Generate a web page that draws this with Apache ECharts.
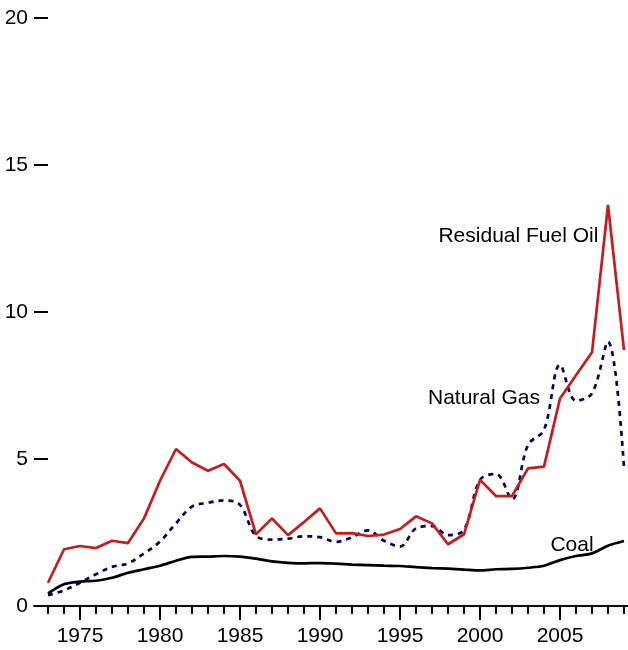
<!DOCTYPE html>
<html>
<head>
<meta charset="utf-8">
<script src="https://cdn.jsdelivr.net/npm/echarts@6/dist/echarts.min.js"></script>
<style>
html,body{margin:0;padding:0;background:#fff;}
#chart{width:628px;height:650px;}
</style>
</head>
<body>
<div id="chart"></div>
<script>
const years = [1973,1974,1975,1976,1977,1978,1979,1980,1981,1982,1983,1984,1985,1986,1987,1988,1989,1990,1991,1992,1993,1994,1995,1996,1997,1998,1999,2000,2001,2002,2003,2004,2005,2006,2007,2008,2009];
const residualFuelOil = [0.79,1.93,2.04,1.97,2.22,2.14,2.98,4.26,5.34,4.88,4.60,4.83,4.26,2.44,2.98,2.41,2.86,3.32,2.47,2.48,2.38,2.43,2.62,3.05,2.81,2.10,2.44,4.29,3.74,3.74,4.68,4.74,7.06,7.85,8.63,13.64,8.70];
const naturalGas = [0.37,0.53,0.79,1.08,1.33,1.45,1.79,2.19,2.81,3.38,3.51,3.59,3.44,2.38,2.26,2.29,2.37,2.34,2.18,2.34,2.57,2.22,2.02,2.64,2.72,2.41,2.59,4.29,4.49,3.63,5.48,5.99,8.20,6.98,7.23,8.99,4.70];
const coal = [0.43,0.74,0.83,0.86,0.96,1.13,1.25,1.37,1.54,1.67,1.68,1.70,1.68,1.61,1.52,1.47,1.45,1.46,1.44,1.41,1.39,1.37,1.36,1.32,1.29,1.27,1.24,1.21,1.25,1.26,1.30,1.37,1.56,1.70,1.79,2.05,2.21];
const majorYears = [1975,1980,1985,1990,1995,2000,2005];
const yTicks = [0,5,10,15,20];
const seriesLabels = [
  {name:'Residual Fuel Oil', coord:[2002.4,12.59]},
  {name:'Natural Gas', coord:[2000.25,7.07]},
  {name:'Coal', coord:[2005.75,2.07]}
];

const FONT = "'Liberation Sans', Arial, sans-serif";
const pairs = arr => years.map((y,i)=>[y, arr[i]]);

const chart = echarts.init(document.getElementById('chart'), null, {renderer:'canvas'});
chart.setOption({
  animation:false,
  backgroundColor:'#fff',
  grid:{left:34, right:0, top:18, bottom:44, containLabel:false},
  xAxis:[{
    type:'value', min:1972.125, max:2009.25, position:'bottom',
    axisLine:{show:true, lineStyle:{color:'#000', width:2}},
    axisTick:{show:true, customValues:years, length:8, lineStyle:{color:'#000', width:2}},
    axisLabel:{show:true, customValues:majorYears, formatter:v=>String(v), color:'#000', fontSize:21, fontFamily:FONT, margin:20},
    splitLine:{show:false}
  },{
    type:'value', min:1972.125, max:2009.25, position:'bottom', offset:0,
    axisLine:{show:false},
    axisTick:{show:true, customValues:majorYears, length:14, lineStyle:{color:'#000', width:2}},
    axisLabel:{show:false},
    splitLine:{show:false}
  }],
  yAxis:{
    type:'value', min:0, max:20, interval:5,
    axisLine:{show:false},
    axisTick:{show:true, inside:true, length:14, lineStyle:{color:'#000', width:2}},
    axisLabel:{color:'#000', fontSize:21, fontFamily:FONT, margin:6, customValues:yTicks, formatter:v=>String(v), padding:[6,0,0,0]},
    splitLine:{show:false}
  },
  series:[
    {name:'Coal', type:'line', data:pairs(coal), showSymbol:false, smooth:0.3,
     lineStyle:{color:'#000', width:2.7}},
    {name:'Natural Gas', type:'line', data:pairs(naturalGas), showSymbol:false, smooth:0.35,
     lineStyle:{color:'#000066', width:2.7, type:[5,5]}},
    {name:'Residual Fuel Oil', type:'line', data:pairs(residualFuelOil), showSymbol:false, smooth:false,
     lineStyle:{color:'#cc1a1a', width:2.7}}
  ]
});
chart.setOption({
  graphic: seriesLabels.map(lab => {
    const p = chart.convertToPixel({xAxisIndex:0, yAxisIndex:0}, lab.coord);
    return {type:'text', x:p[0], y:p[1], z:100,
      style:{text:lab.name, fill:'#000', font:'21px ' + FONT, align:'center', verticalAlign:'middle'}};
  })
});
</script>
</body>
</html>
